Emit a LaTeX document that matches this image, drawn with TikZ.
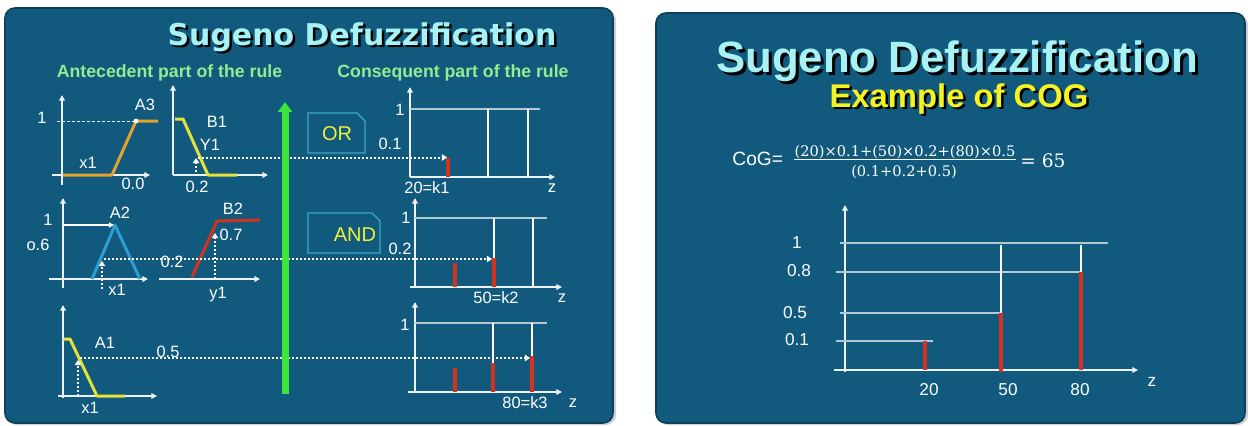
\documentclass[tikz,border=0pt]{standalone}
\usepackage{fontspec}
\setmainfont{Liberation Sans}
\newfontfamily\wideb{DejaVu Sans}
\newfontfamily\formfont{DejaVu Serif}
\usetikzlibrary{arrows.meta}
\definecolor{panel}{HTML}{115A7E}
\definecolor{panelrim}{HTML}{0B3F5C}
\definecolor{titlecyan}{HTML}{A8F2F4}
\definecolor{subgreen}{HTML}{90EE90}
\definecolor{orangefn}{HTML}{E4A22C}
\definecolor{yellowfn}{HTML}{E2E23A}
\definecolor{bluefn}{HTML}{2C9ED4}
\definecolor{redfn}{HTML}{D2321E}
\definecolor{greenbar}{HTML}{3CE43C}
\definecolor{optext}{HTML}{EEF03A}
\definecolor{boxrim}{HTML}{3AA8C6}
\definecolor{axiscol}{HTML}{EEF2F4}
\definecolor{levelcol}{HTML}{B4C8D6}
\definecolor{cogyellow}{HTML}{F6F420}
\tikzset{
  lbl/.style={text=white, inner sep=0pt, font=\fontsize{8.2}{9}\selectfont},
  rlbl/.style={text=white, inner sep=0pt, font=\fontsize{8.6}{10}\selectfont},
  axisline/.style={draw=axiscol, line width=0.8pt, -{Triangle[width=2.8pt,length=2.8pt]}},
  fnline/.style={line width=1.5pt, line join=round},
  dotline/.style={draw=white, line width=1pt, dash pattern=on 1pt off 1pt},
  dotarrow/.style={dotline, -{Triangle[width=3.2pt,length=2.6pt]}},
  levelline/.style={draw=levelcol, line width=0.8pt},
  whitebar/.style={draw=white, line width=1.2pt},
  redbar/.style={draw=redfn, line width=1.6pt},
  bigredbar/.style={draw=redfn, line width=2pt},
  opbox/.style={draw=boxrim, line width=0.6pt},
  optxt/.style={text=optext, inner sep=0pt, font=\fontsize{10}{12}\selectfont},
  subhead/.style={text=subgreen, inner sep=0pt, anchor=base, font=\bfseries\fontsize{8.85}{10}\selectfont},
  lefttitle/.style={inner sep=0pt, anchor=base, font=\wideb\bfseries\fontsize{15}{18}\selectfont},
  righttitle/.style={inner sep=0pt, anchor=base, font=\bfseries\fontsize{21.9}{26}\selectfont},
  cogtitle/.style={inner sep=0pt, anchor=base, font=\bfseries\fontsize{16.4}{20}\selectfont},
  formtxt/.style={inner sep=0pt, anchor=base, text=white, font=\formfont\fontsize{7.3}{9}\selectfont},
}
\begin{document}
\begin{tikzpicture}[x=0.5pt,y=-0.5pt]
\useasboundingbox (0,0) rectangle (1248,425);
\fill[white] (0,0) rectangle (1248,425);
% ---------------- panels
\fill[black!18, rounded corners=5pt] (7,10) rectangle (616,425);
\filldraw[fill=panel, draw=panelrim, line width=0.8pt, rounded corners=5pt] (5,8) rectangle (613,423);
\fill[black!18, rounded corners=5pt] (658,15) rectangle (1248,425);
\filldraw[fill=panel, draw=panelrim, line width=0.8pt, rounded corners=5pt] (656,13) rectangle (1245,423);

% ---------------- left title
\node[lefttitle, text=black] (t1s) at (364.5,47.5) {Sugeno Defuzzification};
\node[lefttitle, text=titlecyan] (t1) at (362,45) {Sugeno Defuzzification};
\node[subhead] (ant) at (169.5,77) {Antecedent part of the rule};
\node[subhead] (cons) at (453,77) {Consequent part of the rule};

% ---------------- graph A3
\draw[axisline] (62,185) -- (62,95);
\draw[axisline] (52,175) -- (150,175);
\draw[white, line width=0.5pt, dash pattern=on 1.5pt off 1pt] (57,121) -- (136,121);
\draw[orangefn, fnline] (63,175) -- (112,175) -- (136,121) -- (158,121);
\fill[white] (136,121) circle (1.2pt);
\node[lbl] (a3one) at (42,118) {1};
\node[lbl] (A3) at (145,105) {A3};
\node[lbl] (a3x) at (88,163) {x1};
\node[lbl] (a3zero) at (133,184) {0.0};

% ---------------- graph B1
\draw[axisline] (173,175) -- (173,85);
\draw[axisline] (173,175) -- (268,175);
\draw[yellowfn, fnline] (175,119) -- (183,119) -- (208,175) -- (237,175);
\node[lbl] (B1) at (217,122) {B1};
\node[lbl] (Y1) at (210,145) {Y1};
\node[lbl] (b1val) at (197,187) {0.2};
\coordinate (b1foot) at (196,176);
\coordinate (b1cut) at (196,158);
\draw[dotarrow] (b1foot) -- (b1cut);

% ---------------- graph A2
\draw[axisline] (63,288) -- (63,198);
\draw[axisline] (49,279) -- (148,279);
\draw[bluefn, fnline] (92,279) -- (115,225) -- (140,279);
\draw[white, line width=0.6pt, -{Triangle[width=2.6pt,length=2.6pt]}] (63,225) -- (114,225);
\node[lbl] (a2one) at (48,220) {1};
\node[lbl] (a2six) at (38,245) {o.6};
\node[lbl] (A2) at (120,213) {A2};
\coordinate (a2foot) at (102,289);
\coordinate (a2cut) at (102,261);
\draw[dotarrow] (a2foot) -- (a2cut);
\node[lbl] (a2x) at (117,290) {x1};

% ---------------- graph B2
\draw[axisline] (159,279) -- (260,279);
\draw[redfn, fnline] (192,277) -- (217,221) -- (260,220);
\node[lbl] (B2) at (233,209) {B2};
\coordinate (b2foot) at (215,279);
\coordinate (b2cut) at (215,233);
\draw[dotarrow] (b2foot) -- (b2cut);
\node[lbl] (b2val) at (231,235) {0.7};
\node[lbl] (b2y) at (218,295) {y1};

% ---------------- graph A1
\draw[axisline] (63,398) -- (63,305);
\draw[axisline] (58,396) -- (157,396);
\draw[yellowfn, fnline] (63,339) -- (70,339) -- (97,396) -- (125,396);
\node[lbl] (A1) at (105,343) {A1};
\coordinate (a1foot) at (78,396);
\coordinate (a1cut) at (78,360);
\draw[dotarrow] (a1foot) -- (a1cut);
\node[lbl] (a1x) at (90,408) {x1};

% ---------------- dotted transfer lines
\coordinate (r1s) at (198,157.5);
\coordinate (r1e) at (447,157.5);
\coordinate (r2s) at (104,259);
\coordinate (r2e) at (492,259);
\coordinate (r3s) at (80,358);
\coordinate (r3e) at (530,358);
\draw[dotarrow] (r1s) -- (r1e);
\draw[dotarrow] (r2s) -- (r2e);
\draw[dotarrow] (r3s) -- (r3e);
\node[lbl] (mid2) at (172,262) {0.2};
\node[lbl] (mid3) at (168,352) {0.5};

% ---------------- green arrow
\draw[greenbar, line width=3.5pt, -{Triangle[width=7pt,length=5pt]}] (285,394) -- (285,102);

% ---------------- OR / AND boxes
\draw[opbox] (308,113) -- (357,113) -- (365,121) -- (365,153) -- (308,153) -- cycle;
\node[optxt] (ortext) at (337,134) {OR};
\draw[opbox] (308,213) -- (372,213) -- (380,221) -- (380,253) -- (308,253) -- cycle;
\node[optxt] (andtext) at (355,235) {AND};

% ---------------- consequent graph 1
\draw[axisline] (410,177) -- (410,87);
\draw[axisline] (410,177) -- (555,177);
\draw[levelline] (410,109) -- (540,109);
\draw[whitebar] (488,109) -- (488,177);
\draw[whitebar] (528,109) -- (528,177);
\draw[redbar] (448,158) -- (448,177);
\node[lbl] (c1one) at (400,110) {1};
\node[lbl] (c1val) at (390,144) {0.1};
\node[lbl] (k1) at (427,188) {20=k1};
\node[lbl] (z1) at (552,188) {z};

% ---------------- consequent graph 2
\draw[axisline] (415,287) -- (415,198);
\draw[axisline] (410,287) -- (562,287);
\draw[levelline] (415,218) -- (547,218);
\draw[whitebar] (494,218) -- (494,258);
\draw[whitebar] (533,218) -- (533,287);
\draw[redbar] (455,263) -- (455,287);
\draw[redbar] (494,258) -- (494,287);
\node[lbl] (c2one) at (406,218) {1};
\node[lbl] (c2val) at (400,249) {0.2};
\node[lbl] (k2) at (496,298) {50=k2};
\node[lbl] (z2) at (562,298) {z};

% ---------------- consequent graph 3
\draw[axisline] (415,392) -- (415,302);
\draw[axisline] (408,392) -- (562,392);
\draw[levelline] (415,323) -- (547,323);
\draw[whitebar] (493,323) -- (493,363);
\draw[whitebar] (532,323) -- (532,356);
\draw[redbar] (455,368) -- (455,392);
\draw[redbar] (493,363) -- (493,392);
\draw[redbar] (532,356) -- (532,392);
\node[lbl] (c3one) at (405,325) {1};
\node[lbl] (k3) at (525,403) {80=k3};
\node[lbl] (z3) at (573,403) {z};

% ================= right panel
\node[righttitle, text=black] (t2s) at (960,75) {Sugeno Defuzzification};
\node[righttitle, text=titlecyan] (t2) at (957,72) {Sugeno Defuzzification};
\node[cogtitle, text=black] (t3s) at (961.5,109.5) {Example of COG};
\node[cogtitle, text=cogyellow] (t3) at (959,107) {Example of COG};

\node[anchor=base west, inner sep=0pt, text=white, font=\fontsize{9.6}{11}\selectfont] (cog) at (732,165) {CoG=};
\node[formtxt] (num) at (905,156) {(20)×0.1+(50)×0.2+(80)×0.5};
\node[formtxt] (den) at (904,176) {(0.1+0.2+0.5)};
\draw[white, line width=0.5pt] (num.south west |- 0,159.5) -- (num.south east |- 0,159.5);
\node[anchor=base west, inner sep=0pt, text=white, font=\formfont\fontsize{9.3}{11}\selectfont] (res) at (1020,167) {= 65};

\draw[axisline] (845,372) -- (845,205);
\draw[axisline] (834,370) -- (1138,370);
\draw[levelline] (840,243) -- (1108,243);
\draw[levelline] (836,272) -- (1080,272);
\draw[levelline] (840,313) -- (1001,313);
\draw[levelline] (836,341) -- (933,341);
\draw[whitebar] (1001,245) -- (1001,313);
\draw[bigredbar] (1001,313) -- (1001,372);
\draw[whitebar] (1081,245) -- (1081,272);
\draw[bigredbar] (1081,272) -- (1081,370);
\draw[bigredbar] (925,341) -- (925,370);
\node[rlbl] (rone) at (797,243) {1};
\node[rlbl] (r08) at (799,271) {0.8};
\node[rlbl] (r05) at (795,313) {0.5};
\node[rlbl] (r01) at (797,340) {0.1};
\node[rlbl] (r20) at (929,390) {20};
\node[rlbl] (r50) at (1008,390) {50};
\node[rlbl] (r80) at (1080,390) {80};
\node[rlbl] (rz) at (1152,382) {z};
\end{tikzpicture}
\end{document}
